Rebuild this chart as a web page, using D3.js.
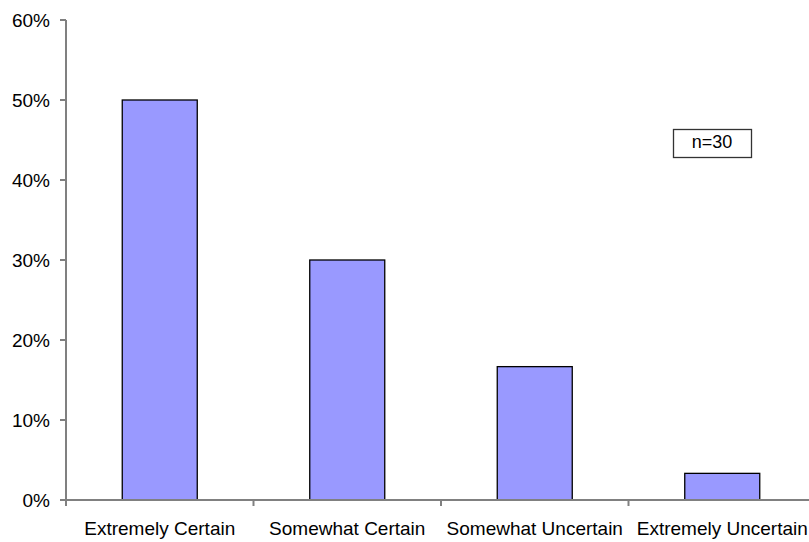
<!DOCTYPE html>
<meta charset="utf-8">
<script src="https://cdn.jsdelivr.net/npm/d3@7"></script>
<style>
  body { margin: 0; background: #fff; }
  text { font-family: Arial, "Liberation Sans", sans-serif; fill: #000; }
</style>
<body>
<script>

var categories = ["Extremely Certain", "Somewhat Certain", "Somewhat Uncertain", "Extremely Uncertain"]
var shares = [0.50, 0.30, 0.1667, 0.0333]
var yTicks = [0, 0.1, 0.2, 0.3, 0.4, 0.5, 0.6]
var note = "n=30"

var width = 809
var height = 542

var x = d3.scaleBand().domain(categories).range([66, 816]).paddingInner(0.6).paddingOuter(0.3)
var y = d3.scaleLinear().domain([0, 0.6]).range([500, 20])

var svg = d3.select("body").append("svg")
            .attr("width", width)
            .attr("height", height)

// bars
svg.append("g").selectAll("rect")
   .data(categories)
   .enter().append("rect")
   .attr("x", function(d) { return x(d) })
   .attr("y", function(d, i) { return y(shares[i]) })
   .attr("width", x.bandwidth())
   .attr("height", function(d, i) { return y(0) - y(shares[i]) })
   .attr("fill", "#9999ff")
   .attr("stroke", "#000")
   .attr("stroke-width", 1.3)

// y axis
var yAxis = svg.append("g")
yAxis.append("line")
     .attr("x1", 66).attr("x2", 66)
     .attr("y1", y(0.6)).attr("y2", y(0))
     .attr("stroke", "#808080").attr("stroke-width", 2)
yAxis.selectAll(".tick").data(yTicks).enter().append("line")
     .attr("x1", 60).attr("x2", 66)
     .attr("y1", function(d) { return y(d) }).attr("y2", function(d) { return y(d) })
     .attr("stroke", "#808080").attr("stroke-width", 2)
yAxis.selectAll("text").data(yTicks).enter().append("text")
     .attr("x", 50)
     .attr("y", function(d) { return y(d) + 7 })
     .attr("text-anchor", "end")
     .style("font-size", "19px")
     .text(d3.format(".0%"))

// x axis
var xAxis = svg.append("g")
xAxis.append("line")
     .attr("x1", 66).attr("x2", 816)
     .attr("y1", y(0)).attr("y2", y(0))
     .attr("stroke", "#808080").attr("stroke-width", 2)
xAxis.selectAll(".tick").data(categories).enter().append("line")
     .attr("x1", function(d) { return x(d) - x.step() * 0.3 })
     .attr("x2", function(d) { return x(d) - x.step() * 0.3 })
     .attr("y1", y(0)).attr("y2", y(0) + 6)
     .attr("stroke", "#808080").attr("stroke-width", 2)
xAxis.selectAll("text").data(categories).enter().append("text")
     .attr("x", function(d) { return x(d) + x.bandwidth() / 2 })
     .attr("y", 535)
     .attr("text-anchor", "middle")
     .style("font-size", "19px")
     .text(function(d) { return d })

// note box
svg.append("rect")
   .attr("x", 673.5).attr("y", 129.5)
   .attr("width", 78).attr("height", 28)
   .attr("fill", "#fff").attr("stroke", "#333").attr("stroke-width", 1.3)
svg.append("text")
   .attr("x", 712).attr("y", 148)
   .attr("text-anchor", "middle")
   .style("font-size", "18px")
   .text(note)

</script>
</body>
